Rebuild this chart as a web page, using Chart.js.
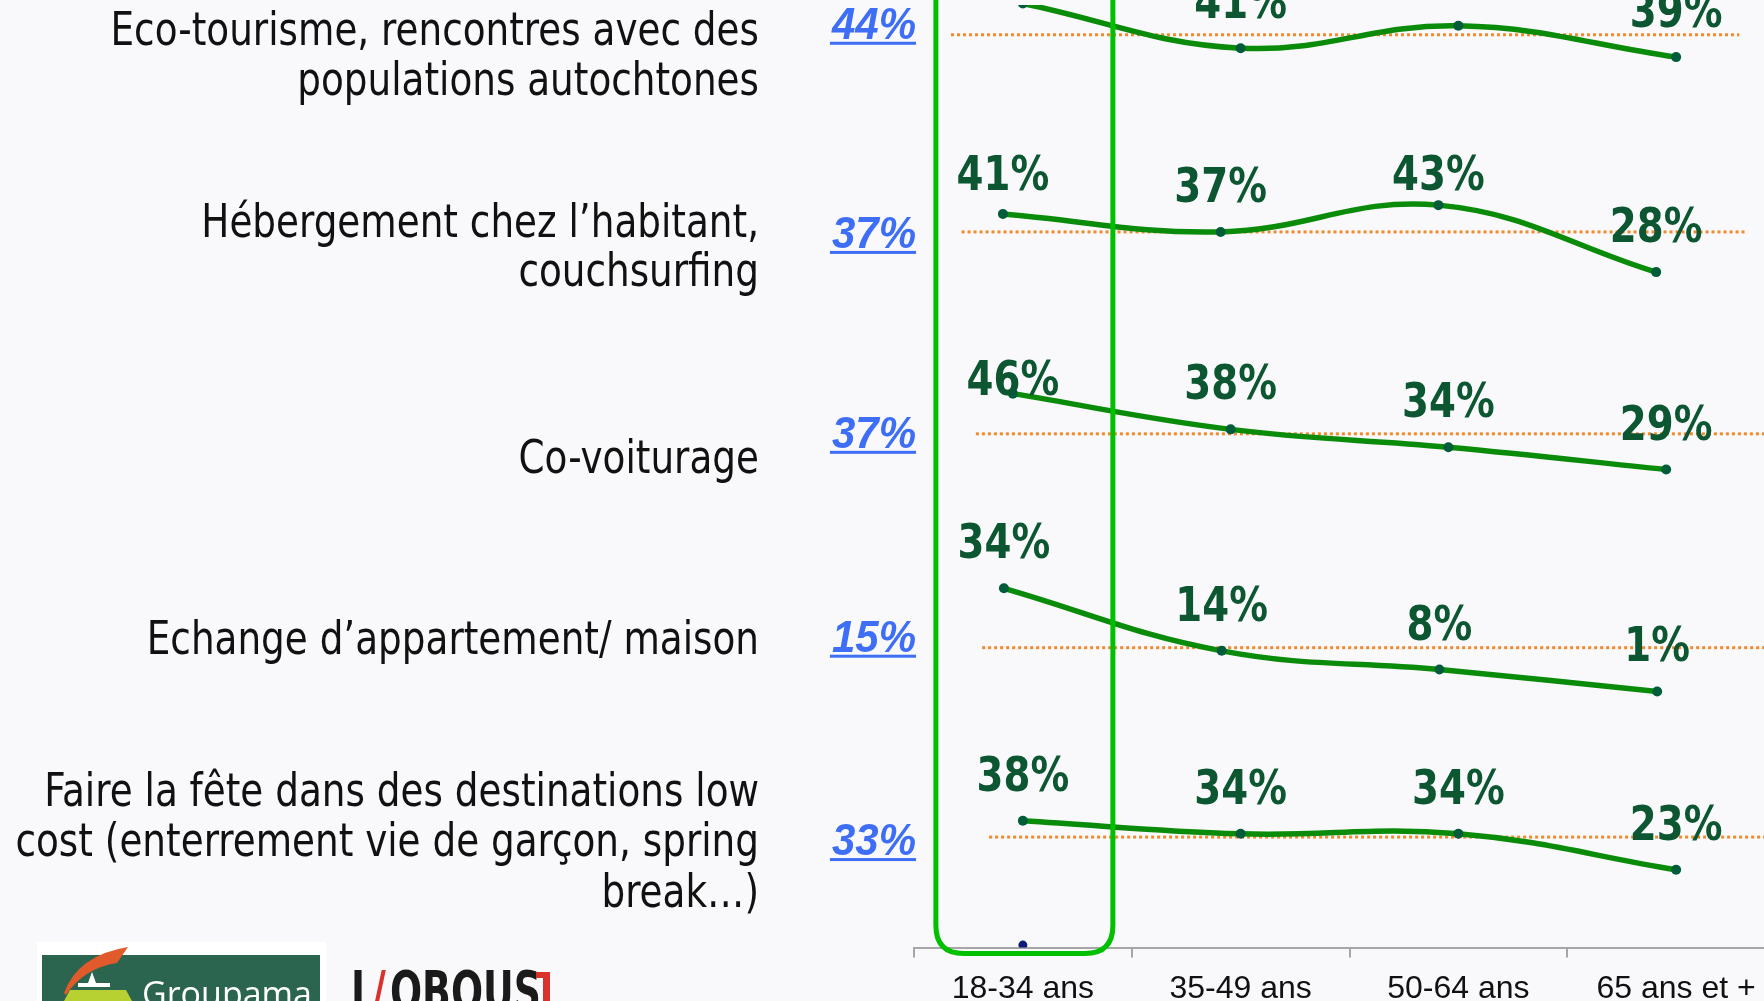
<!DOCTYPE html>
<html lang="fr">
<head>
<meta charset="utf-8">
<title>Pratiques de voyage selon l'âge</title>
<script src="https://cdn.jsdelivr.net/npm/chart.js@4.4.1/dist/chart.umd.min.js"></script>
<style>
  html, body { margin: 0; padding: 0; background: #f9f9fb; overflow: hidden; }
  #wrap { position: relative; width: 1790px; height: 1020px; }
</style>
</head>
<body>
<div id="wrap"><canvas id="chart"></canvas></div>
<script>
const AGE_GROUPS = ['18-34 ans', '35-49 ans', '50-64 ans', '65 ans et +']

const PRACTICES = [
  ['Eco-tourisme, rencontres avec des', 'populations autochtones'],
  ['Hébergement chez l’habitant,', 'couchsurfing'],
  ['Co-voiturage'],
  ['Echange d’appartement/ maison'],
  ['Faire la fête dans des destinations low', 'cost (enterrement vie de garçon, spring', 'break…)']
]

const ECO_TOURISM = [51, 41, 46, 39]
const HOMESTAY = [41, 37, 43, 28]
const CARPOOLING = [46, 38, 34, 29]
const HOME_EXCHANGE = [34, 14, 8, 1]
const LOW_COST_PARTY = [38, 34, 34, 23]
const SERIES = [ECO_TOURISM, HOMESTAY, CARPOOLING, HOME_EXCHANGE, LOW_COST_PARTY]

// overall average per practice (blue figures + orange dotted line)
const OVERALL = [44, 37, 37, 15, 33]

// each row was its own little chart in the slide: own vertical scale and small x shift
const PLOT_HEIGHT = 950
const CAT_WIDTH = 218.2
const ROWS = [
  { zeroY: 228, pxPerPct: 4.5, shift: 0, avgFrom: -0.33, avgTo: 3.29, avgDy: 4, labelMin: -999, textY: [33, 83] },
  { zeroY: 395.2, pxPerPct: 4.5, shift: 20, avgFrom: -0.19, avgTo: 3.42, avgDy: 16, labelMin: 190, textY: [225, 274] },
  { zeroY: 598.7, pxPerPct: 4.5, shift: 10, avgFrom: -0.17, avgTo: 3.7, avgDy: 14, labelMin: 395, textY: [461] },
  { zeroY: 695, pxPerPct: 3.15, shift: 19, avgFrom: -0.1, avgTo: 3.7, avgDy: 4, labelMin: -999, textY: [642] },
  { zeroY: 947.5, pxPerPct: 3.3, shift: 0, avgFrom: -0.155, avgTo: 3.7, avgDy: 18, labelMin: -999, textY: [794, 844.5, 895] }
]

const LINE_GREEN = '#0a8c0a'
const POINT_GREEN = '#005c3a'
const LABEL_GREEN = '#0c5632'
const AVG_ORANGE = '#f08a2c'
const AVG_BLUE = '#3d6ef5'
const FRAME_GREEN = '#00c000'

const scales = {
  x: {
    type: 'category',
    labels: AGE_GROUPS,
    offset: true,
    grid: { offset: true, drawOnChartArea: false, drawTicks: true, tickLength: 10, color: '#a6a6a6', lineWidth: 2 },
    border: { display: true, color: '#a6a6a6', width: 2 },
    ticks: { color: '#111', font: { family: '"Liberation Sans", Arial, sans-serif', size: 32 }, padding: 12, maxRotation: 0 }
  }
}

const datasets = []
ROWS.forEach((row, i) => {
  scales['x' + i] = {
    type: 'linear', display: false,
    min: -0.5 + row.shift / CAT_WIDTH,
    max: 3.5 + row.shift / CAT_WIDTH
  }
  scales['y' + i] = {
    type: 'linear', display: false,
    min: (row.zeroY - PLOT_HEIGHT) / row.pxPerPct,
    max: row.zeroY / row.pxPerPct
  }
  datasets.push({
    label: PRACTICES[i].join(' '),
    row: i,
    kind: 'values',
    data: SERIES[i].map((v, k) => ({ x: k, y: v })),
    xAxisID: 'x' + i,
    yAxisID: 'y' + i,
    borderColor: LINE_GREEN,
    borderWidth: 5.5,
    tension: 0.4,
    pointRadius: 5,
    pointBorderWidth: 0,
    pointBackgroundColor: POINT_GREEN,
    order: 1
  })
  datasets.push({
    label: 'Ensemble',
    row: i,
    kind: 'average',
    data: [{ x: row.avgFrom, y: OVERALL[i] }, { x: row.avgTo, y: OVERALL[i] }],
    xAxisID: 'x' + i,
    yAxisID: 'y' + i,
    borderColor: AVG_ORANGE,
    borderWidth: 3,
    borderDash: [3, 3],
    pointRadius: 0,
    tension: 0,
    order: 2
  })
})

// stray marker sitting on the axis under the 18-34 column
datasets.push({
  label: 'marker',
  kind: 'marker',
  data: [{ x: 0, y: 0 }],
  xAxisID: 'x4',
  yAxisID: 'y4',
  showLine: false,
  pointRadius: 4.5,
  pointBorderWidth: 0,
  pointBackgroundColor: '#0d1b78',
  order: 0
})

// the slide text is squeezed horizontally, so draw it a bit taller than wide
function tallText(ctx, txt, x, y, sy) {
  ctx.save()
  ctx.translate(x, y)
  ctx.scale(1, sy)
  ctx.fillText(txt, 0, 0)
  ctx.restore()
}

function roundedFrame(ctx, left, top, right, bottom, r) {
  ctx.beginPath()
  ctx.moveTo(left, top)
  ctx.lineTo(left, bottom - r)
  ctx.quadraticCurveTo(left, bottom, left + r, bottom)
  ctx.lineTo(right - r, bottom)
  ctx.quadraticCurveTo(right, bottom, right, bottom - r)
  ctx.lineTo(right, top)
  ctx.stroke()
}

function drawLogos(ctx) {
  // Groupama
  ctx.fillStyle = '#ffffff'
  ctx.fillRect(37, 942, 289, 60)
  ctx.fillStyle = '#2b654f'
  ctx.fillRect(42, 955, 278, 50)
  ctx.fillStyle = '#e05a2b'
  ctx.beginPath()
  ctx.moveTo(64, 993)
  ctx.quadraticCurveTo(78, 955, 128, 947)
  ctx.lineTo(117, 963)
  ctx.quadraticCurveTo(84, 968, 66, 995)
  ctx.closePath()
  ctx.fill()
  ctx.fillStyle = '#b8d132'
  ctx.beginPath()
  ctx.moveTo(64, 1001)
  ctx.lineTo(70, 990)
  ctx.lineTo(126, 990)
  ctx.lineTo(132, 1001)
  ctx.closePath()
  ctx.fill()
  ctx.fillStyle = '#ffffff'
  ctx.fillRect(78, 983, 32, 4)
  ctx.beginPath()
  ctx.moveTo(88, 983)
  ctx.lineTo(92, 972)
  ctx.lineTo(96, 983)
  ctx.closePath()
  ctx.fill()
  ctx.font = '34px "Open Sans", "DejaVu Sans", sans-serif'
  ctx.textAlign = 'left'
  ctx.textBaseline = 'alphabetic'
  ctx.fillText('Groupama', 142, 1006)

  // L'ObSoCo
  ctx.font = 'bold 42px "DejaVu Sans Condensed", sans-serif'
  ctx.fillStyle = '#1a1a1a'
  tallText(ctx, 'L', 351, 1010, 1.3)
  ctx.fillStyle = '#d8322a'
  tallText(ctx, '/', 372, 1010, 1.3)
  ctx.fillStyle = '#1a1a1a'
  tallText(ctx, 'OBOUS', 390, 1010, 1.3)
  ctx.fillStyle = '#d8322a'
  ctx.fillRect(536, 972, 14, 6)
  ctx.fillRect(543, 972, 7, 30)
}

const overlay = {
  id: 'overlay',
  afterDatasetsDraw(chart) {
    const ctx = chart.ctx
    const xs = chart.scales.x
    const area = chart.chartArea
    ctx.save()

    // highlight frame on the 18-34 column
    const cx = xs.getPixelForValue(0)
    ctx.strokeStyle = FRAME_GREEN
    ctx.lineWidth = 5
    roundedFrame(ctx, cx - 87, -20, cx + 90, area.bottom + 6, 28)

    chart.data.datasets.forEach((ds, di) => {
      const meta = chart.getDatasetMeta(di)
      const row = ROWS[ds.row]
      if (ds.kind === 'values') {
        ctx.font = 'bold 43px "DejaVu Sans Condensed", "DejaVu Sans", sans-serif'
        ctx.fillStyle = LABEL_GREEN
        ctx.textAlign = 'center'
        ctx.textBaseline = 'alphabetic'
        meta.data.forEach((pt, k) => {
          const y = Math.max(pt.y - 30, row.labelMin)
          tallText(ctx, SERIES[ds.row][k] + '%', pt.x, y, 1.13)
        })
      } else if (ds.kind === 'average') {
        const ys = chart.scales['y' + ds.row]
        const base = ys.getPixelForValue(OVERALL[ds.row]) + row.avgDy
        const txt = OVERALL[ds.row] + '%'
        ctx.font = 'italic bold 42px "Liberation Sans", Arial, sans-serif'
        ctx.fillStyle = AVG_BLUE
        ctx.textAlign = 'right'
        ctx.textBaseline = 'alphabetic'
        const right = area.left + 2
        tallText(ctx, txt, right, base, 1.05)
        const w = ctx.measureText(txt).width
        ctx.fillRect(right - w - 2, base + 3, w + 2, 3)

        // practice name on the left
        ctx.font = '41.5px "DejaVu Sans Condensed", "DejaVu Sans", sans-serif'
        ctx.fillStyle = '#111111'
        ctx.textBaseline = 'middle'
        PRACTICES[ds.row].forEach((line, li) => {
          tallText(ctx, line, 759, row.textY[li], 1.1)
        })
      }
    })

    drawLogos(ctx)
    ctx.restore()
  }
}

new Chart(document.getElementById('chart'), {
  type: 'line',
  data: { datasets },
  options: {
    responsive: true,
    maintainAspectRatio: false,
    animation: false,
    layout: { padding: { left: 914, right: 3, top: 0, bottom: 0 } },
    scales,
    plugins: {
      legend: { display: false },
      tooltip: { enabled: false }
    }
  },
  plugins: [overlay]
})
</script>
</body>
</html>
